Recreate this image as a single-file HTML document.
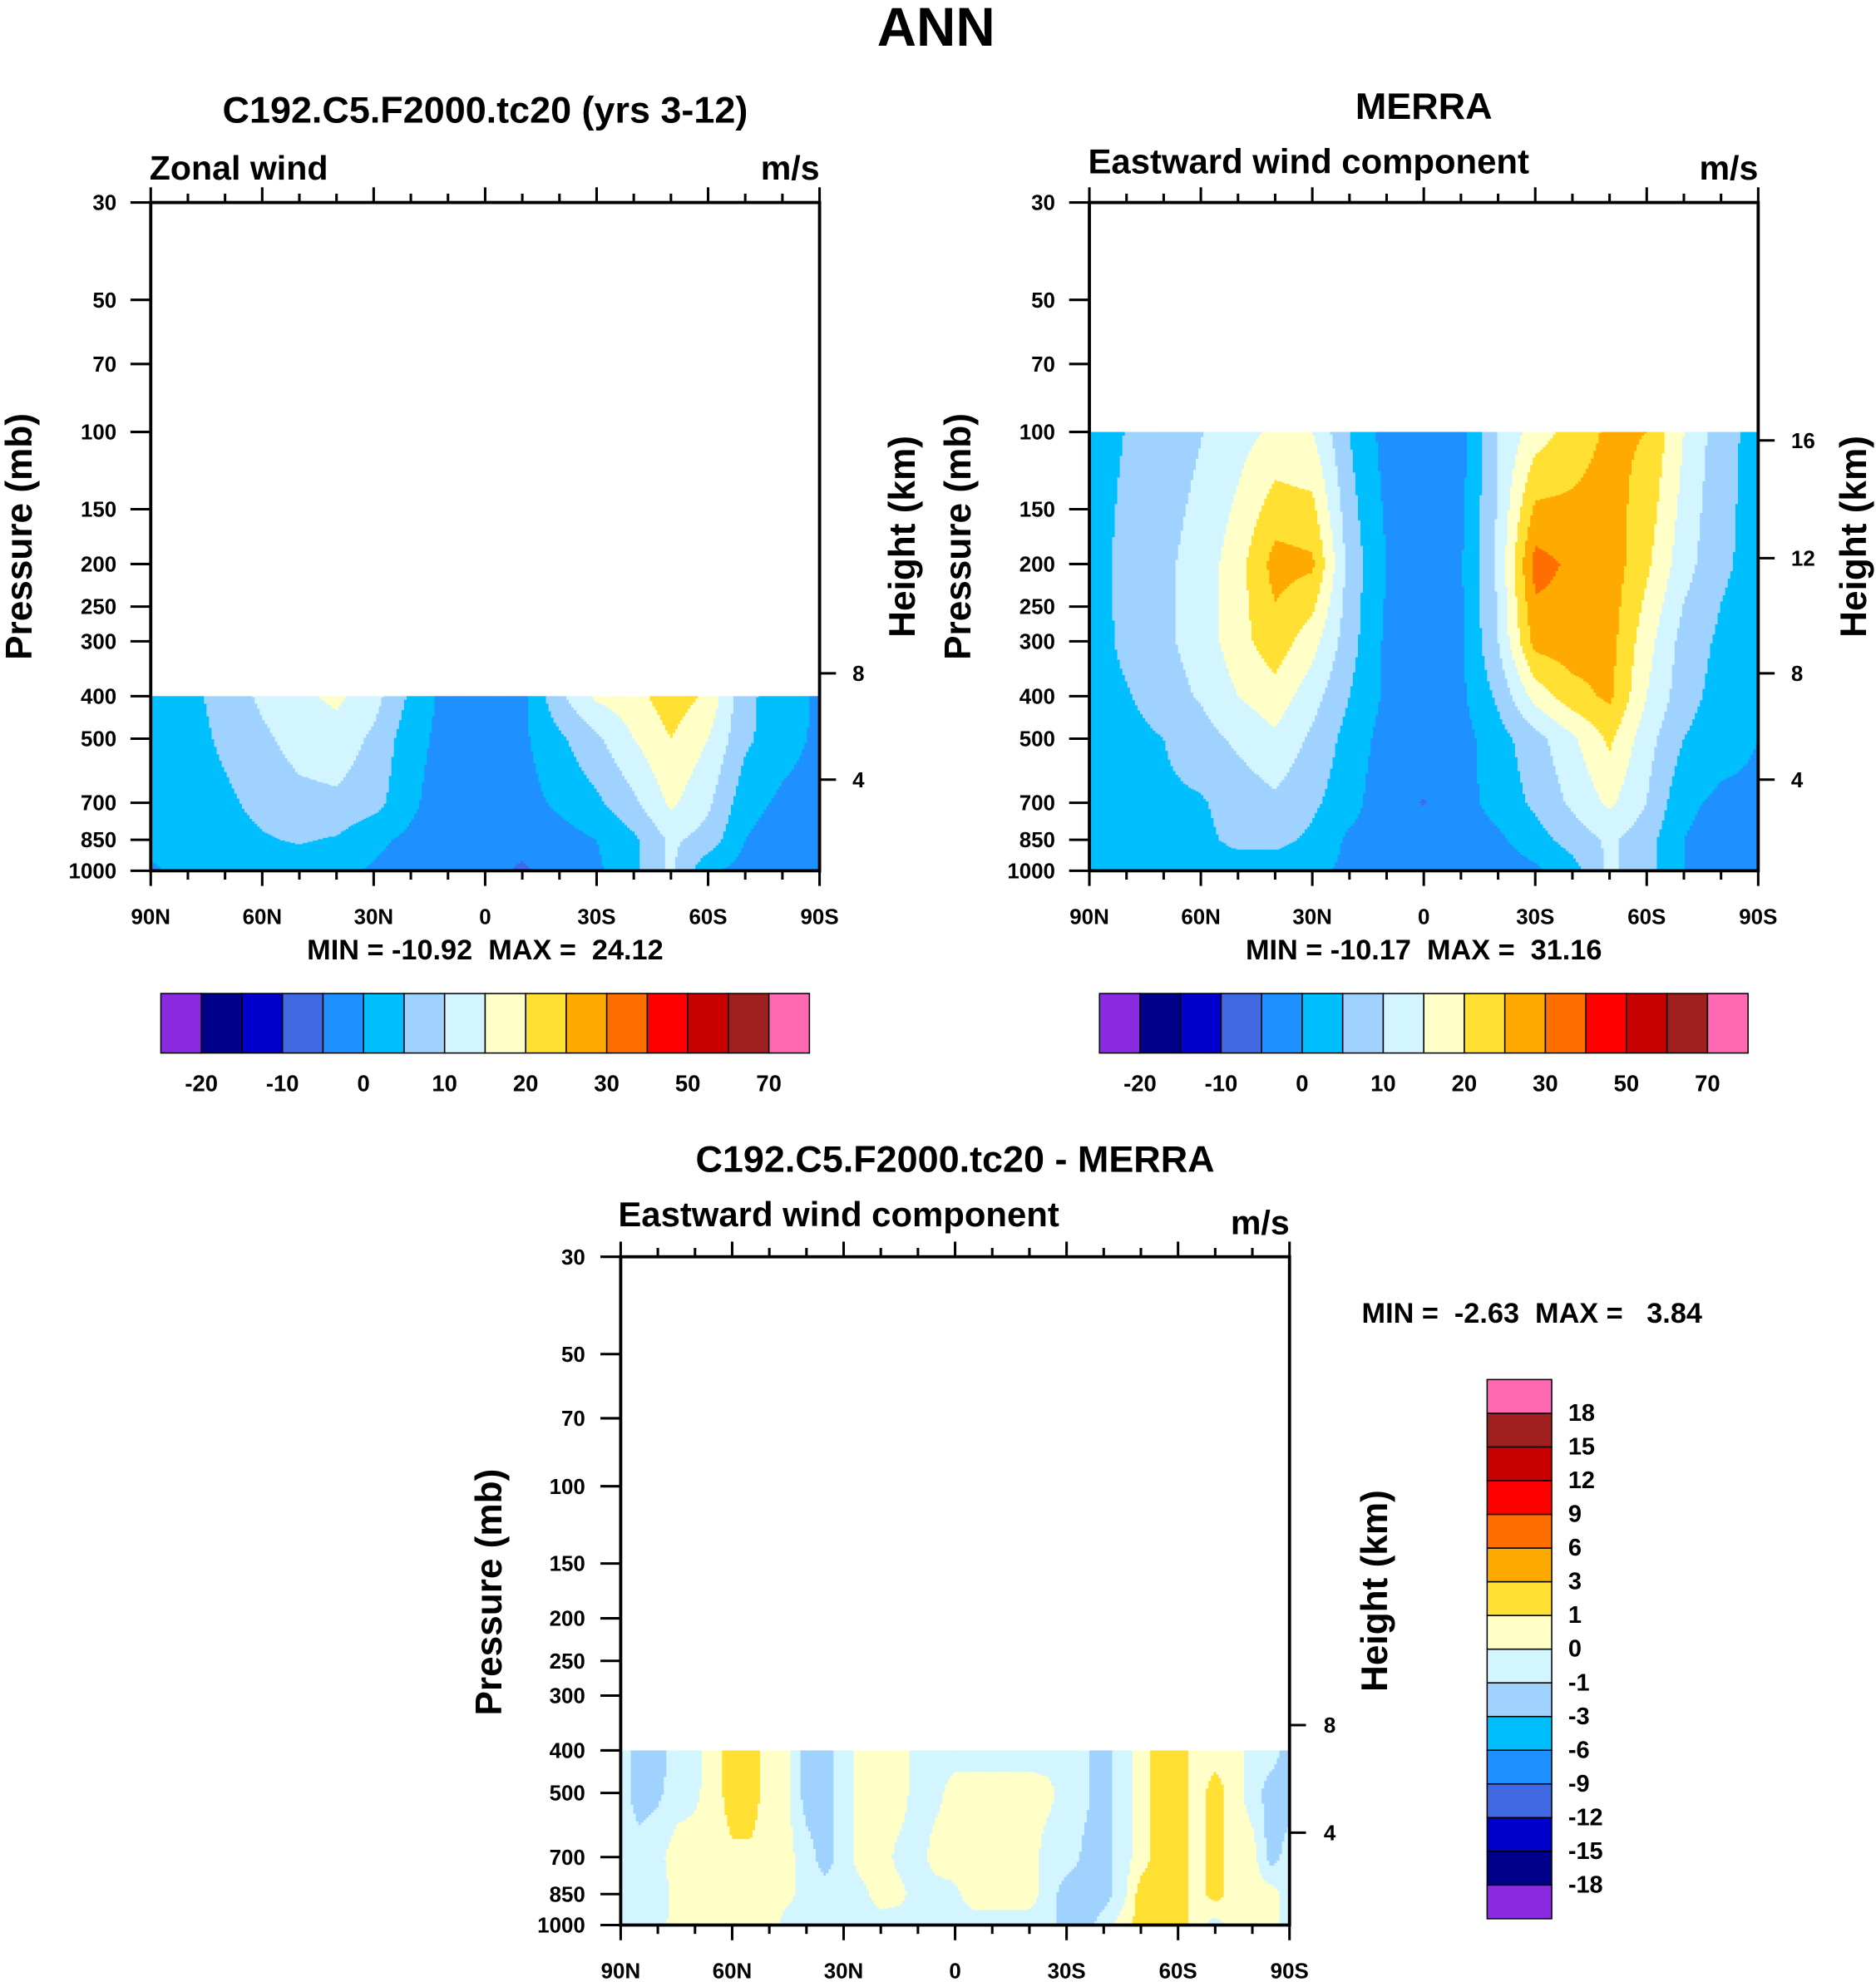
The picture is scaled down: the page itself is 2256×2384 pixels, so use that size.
<!DOCTYPE html>
<html><head><meta charset="utf-8">
<style>
html,body{margin:0;padding:0;background:#fff;}
svg{display:block;font-family:"Liberation Sans",Arial,sans-serif;font-weight:bold;}
text{white-space:pre;}
</style></head>
<body>
<svg id="fig" xmlns="http://www.w3.org/2000/svg" width="2256" height="2384" viewBox="0 0 1481 1566" preserveAspectRatio="none" xml:space="preserve">
<rect x="0" y="0" width="1481" height="1566" fill="#fff"/>
<text x="739" y="36" font-size="43" text-anchor="middle">ANN</text>
<g id="g1"></g>
<g id="g2"></g>
<g id="g3"></g>
</svg>
<script>
// ---- data ----
const levelsMain = [-20,-15,-10,-5,0,5,10,15,20,25,30,40,50,60,70];
const levelsDiff = [-18,-15,-12,-9,-6,-3,-1,0,1,3,6,9,12,15,18];
const colors = ["#8a2be2","#00008b","#0000cd","#4169e1","#1e90ff","#00bfff","#a0d2ff","#d2f5ff","#ffffc8","#ffe033","#ffaa00","#ff6e00","#ff0000","#c80000","#a02020","#ff69b4"];
const latsCoarse = [90,80,70,60,50,40,30,20,10,0,-10,-20,-30,-40,-50,-60,-70,-80,-90];
const latsFine = [90,85,80,75,70,65,60,55,50,45,40,35,30,25,20,15,10,5,0,-5,-10,-15,-20,-25,-30,-35,-40,-45,-50,-55,-60,-65,-70,-75,-80,-85,-90];
const pressureTicks = [30,50,70,100,150,200,250,300,400,500,700,850,1000];
const latTickLabels = ["90N","60N","30N","0","30S","60S","90S"];
const latTickValues = [90,60,30,0,-30,-60,-90];

const modelP = [400,500,700,850,1000];
const model400 = [2,3.5,7,11,14,16,12,4,-2,-3,-1.5,9,16,18,23,19,6,3,-1];
const model500 = [2,3,6,9,12,13,9,2,-2,-3,-1,4,9,15,20,15,6,2,-1];
const model700 = [2,2.5,4,6.5,8.5,9,7,1,-3,-3,-2,1,4,9,16,11,2,-1,-2];
const model850 = [1,2,3,4.5,5.5,4.5,1,-1,-2,-3,-4,-2,0,4,11,8,0,-3,-5];
const model1000 = [-0.5,1,2,2,2,1,-0.5,-2,-3,-4,-5.5,-3.5,-1,4,11,1,-2,-4,-4];

const merraP = [100,200,300,400,500,700,850,1000];
const merra100 = [2,5.2,7.5,9.8,13,16,15,5,-2,-3,-2,10,17.5,22,26,25,15,7,3];
const merra200 = [2,7,9,12,18,27,26,8,0,-3,-0.5,11,32,29,28,21,12,6,3];
const merra300 = [2,6.5,9,12,18,23,17,7,-1,-3,-1,10,27,28,27,17,8,4,2];
const merra400 = [2,4.5,8,10.5,15,18,12,5,-1,-3,-1,6,17,23,26,15,7,3,2];
const merra500 = [2,3,5,8,11,14,9,3,-2,-3,-2,3,8,14,21,12,5,2,0];
const merra700 = [2,3,4,4.5,7,9,6,2,-3.5,-5.2,-2,2,6,11,16,10,1,-1,-1];
const merra850 = [2,2.5,3,4,6,6.5,4,-1,-2,-3,-3,-1,3,7,11,7,0,-2,-3];
const merra1000 = [1,0.5,2,3,3,2,1,-1,-2,-3,-4.5,-3,-1,3,11,7,0,-2,-4];

const diffP = [400,500,700,850,1000];
const diff400 = [-0.5,-1.5,-1.5,-0.5,-0.3,0.5,1.5,1.5,0.5,0.3,-1.5,-1.5,-0.5,0.5,0.5,0.5,-0.5,-0.5,-0.5,-0.5,-0.5,-0.5,-0.5,-0.5,-0.5,-0.8,-1.5,-0.5,0.5,1.5,1.5,0.5,0.5,0.5,-0.5,-0.5,-1.5];
const diff500 = [-0.5,-1.5,-1.2,-0.5,-0.2,0.5,1.5,1.5,0.5,0.2,-1.5,-1.5,-0.5,0.5,0.5,0.5,-0.5,-0.3,0.5,0.5,0.5,0.5,0.5,0.3,-0.5,-0.8,-1.5,-0.5,0.5,1.5,1.5,0.5,1.5,0.5,-0.5,-1.5,-1.5];
const diff700 = [-0.5,-0.5,-0.3,0.5,0.5,0.5,0.8,0.8,0.5,0.3,-0.5,-1.5,-0.5,0.5,0.5,-0.3,-0.5,0.5,0.5,0.5,0.5,0.5,0.5,-0.5,-0.5,-1.2,-1.5,-0.5,0.5,1.5,1.5,0.5,1.5,0.5,0.5,-1.5,-0.5];
const diff850 = [-0.5,-0.5,-0.5,0.3,0.5,0.5,0.5,0.5,0.5,0.3,-0.5,-0.5,-0.5,-0.3,0.5,0.3,-0.5,-0.5,-0.2,0.5,0.5,0.5,0.5,-0.5,-1.5,-1.5,-1.5,-0.5,1.5,1.5,1.5,0.5,1.5,0.5,0.5,0.5,-0.5];
const diff1000 = [-0.5,-0.5,-0.5,0.5,0.5,0.5,0.5,0.5,0.5,-0.5,-0.5,-0.5,-0.5,-0.5,-0.5,-0.5,-0.5,-0.5,-0.5,-0.5,-0.5,-0.5,-0.5,-0.5,-1.5,-1.5,-0.5,0.5,1.5,1.5,1.5,0.5,-0.5,0.5,0.5,0.5,-0.5];

const NS = "http://www.w3.org/2000/svg";
function mk(parent, tag, attrs, text){
  const e = document.createElementNS(NS, tag);
  for (const k in attrs) e.setAttribute(k, attrs[k]);
  if (text !== undefined) e.textContent = text;
  parent.appendChild(e);
  return e;
}
function makeScales(x0,y0,W,H){
  return {
    x: lat => x0 + (90-lat)/180*W,
    y: p => y0 + Math.log(p/30)/Math.log(1000/30)*H,
    pAt: py => 30*Math.exp((py-y0)/H*Math.log(1000/30)),
    latAt: px => 90 - (px-x0)/W*180
  };
}
function interp(lats, ps, rows, lat, p){
  let i = 0;
  while (i < lats.length-2 && lat < lats[i+1]) i++;
  let fx = (lats[i]-lat)/(lats[i]-lats[i+1]); fx = Math.max(0,Math.min(1,fx));
  let j = 0;
  while (j < ps.length-2 && p > ps[j+1]) j++;
  let fy = (Math.log(p)-Math.log(ps[j]))/(Math.log(ps[j+1])-Math.log(ps[j])); fy = Math.max(0,Math.min(1,fy));
  const a = rows[j][i]*(1-fx)+rows[j][i+1]*fx;
  const b = rows[j+1][i]*(1-fx)+rows[j+1][i+1]*fx;
  return a*(1-fy)+b*fy;
}
function classify(v, levels){
  let k = 0;
  while (k < levels.length && v >= levels[k]) k++;
  return k;
}
function drawField(g, sc, x0, W, y1, lats, ps, rows, levels){
  const fg = mk(g,"g",{});
  
  
  const yTop = sc.y(ps[0]);
  const step = 2;
  for (let cx = x0; cx < x0+W; cx += step){
    const lat = sc.latAt(cx+step/2);
    let runStart = yTop, runCls = -1;
    for (let py = yTop; py <= y1; py += 1){
      const p = sc.pAt(Math.min(py+0.5,y1));
      const c = classify(interp(lats, ps, rows, lat, p), levels);
      if (c !== runCls){
        if (runCls >= 0) mk(fg,"rect",{x:cx,y:runStart,width:step+0.6,height:py-runStart+0.6,fill:colors[runCls]});
        runCls = c; runStart = py;
      }
    }
    mk(fg,"rect",{x:cx,y:runStart,width:step+0.6,height:y1-runStart,fill:colors[runCls]});
  }
}
function drawAxes(g, sc, x0, y0, W, H, plabX, heights, heightLabX){
  mk(g,"rect",{x:x0,y:y0,width:W,height:H,fill:"none",stroke:"#000","stroke-width":2.5});
  pressureTicks.forEach(p=>{
    const y = sc.y(p);
    mk(g,"line",{x1:x0-16,y1:y,x2:x0,y2:y,stroke:"#000","stroke-width":2});
    const t = mk(g,"text",{x:plabX,y:y+6,"font-size":17,"text-anchor":"end"},String(p));
    
    
  });
  for (let lat = 90; lat >= -90; lat -= 10){
    const x = sc.x(lat);
    const major = lat % 30 === 0;
    const L = major ? 12 : 7;
    mk(g,"line",{x1:x,y1:y0,x2:x,y2:y0-L,stroke:"#000","stroke-width":2});
    mk(g,"line",{x1:x,y1:y0+H,x2:x,y2:y0+H+L,stroke:"#000","stroke-width":2});
  }
  latTickValues.forEach((lat,i)=>{
    const t = mk(g,"text",{x:sc.x(lat),y:y0+H+42,"font-size":17,"text-anchor":"middle"},latTickLabels[i]);
    
    
  });
  heights.forEach(h=>{
    mk(g,"line",{x1:x0+W,y1:h[1],x2:x0+W+13,y2:h[1],stroke:"#000","stroke-width":2});
    const t = mk(g,"text",{x:heightLabX,y:h[1]+6,"font-size":17},h[0]);
    
    
  });
}
function txt(g, x, y, s, str, anchor, name, rot){
  const a = {x:x,y:y,"font-size":s,"text-anchor":anchor||"start"};
  if (rot) a.transform = "rotate(-90 "+x+" "+y+")";
  const t = mk(g,"text",a,str);
  
  
  return t;
}
function hColorbar(g, x0, y0, w, h, levels){
  const n = colors.length, bw = w/n;
  colors.forEach((c,i)=>{
    const r = mk(g,"rect",{x:x0+i*bw,y:y0,width:bw,height:h,fill:c,stroke:"#000","stroke-width":1});
    
    
  });
  levels.forEach((lv,i)=>{
    if (i % 2 === 0) txt(g, x0+(i+1)*bw, y0+h+30, 18, String(lv), "middle", "colorbar-label");
  });
}

(function(){
  const g = document.getElementById("g1");
  const x0=119,y0=160,W=528,H=528;
  const sc = makeScales(x0,y0,W,H);
  drawField(g, sc, x0, W, y0+H, latsCoarse, modelP, [model400,model500,model700,model850,model1000], levelsMain);
  drawAxes(g, sc, x0, y0, W, H, 92, [["8",532],["4",616]], 673);
  txt(g, 383, 97, 29.5, "C192.C5.F2000.tc20 (yrs 3-12)", "middle", "panel-title");
  txt(g, 118, 142, 27, "Zonal wind", "start", "variable-label");
  txt(g, 647, 142, 27, "m/s", "end", "units-label");
  txt(g, 25, 424, 29, "Pressure (mb)", "middle", "y-axis-title", true);
  txt(g, 722, 424, 29, "Height (km)", "middle", "right-axis-title", true);
  txt(g, 383, 758, 22.5, "MIN = -10.92  MAX =  24.12", "middle", "min-max-label");
  hColorbar(g, 127, 785, 512, 47, levelsMain);
})();
(function(){
  const g = document.getElementById("g2");
  const x0=860,y0=160,W=528,H=528;
  const sc = makeScales(x0,y0,W,H);
  drawField(g, sc, x0, W, y0+H, latsCoarse, merraP, [merra100,merra200,merra300,merra400,merra500,merra700,merra850,merra1000], levelsMain);
  drawAxes(g, sc, x0, y0, W, H, 833, [["16",348],["12",441],["8",532],["4",616]], 1414);
  txt(g, 1124, 94, 29.5, "MERRA", "middle", "panel-title");
  txt(g, 859, 137, 27.5, "Eastward wind component", "start", "variable-label");
  txt(g, 1388, 142, 27, "m/s", "end", "units-label");
  txt(g, 766, 424, 29, "Pressure (mb)", "middle", "y-axis-title", true);
  txt(g, 1473, 424, 29, "Height (km)", "middle", "right-axis-title", true);
  txt(g, 1124, 758, 22.5, "MIN = -10.17  MAX =  31.16", "middle", "min-max-label");
  hColorbar(g, 868, 785, 512, 47, levelsMain);
})();
(function(){
  const g = document.getElementById("g3");
  const x0=490,y0=993,W=528,H=528;
  const sc = makeScales(x0,y0,W,H);
  drawField(g, sc, x0, W, y0+H, latsFine, diffP, [diff400,diff500,diff700,diff850,diff1000], levelsDiff);
  drawAxes(g, sc, x0, y0, W, H, 462, [["8",1363],["4",1448]], 1045);
  txt(g, 754, 926, 29.5, "C192.C5.F2000.tc20 - MERRA", "middle", "panel-title");
  txt(g, 488, 969, 27.5, "Eastward wind component", "start", "variable-label");
  txt(g, 1018, 975, 27, "m/s", "end", "units-label");
  txt(g, 396, 1258, 29, "Pressure (mb)", "middle", "y-axis-title", true);
  txt(g, 1095, 1257, 29, "Height (km)", "middle", "right-axis-title", true);
  txt(g, 1075, 1045, 22.5, "MIN =  -2.63  MAX =   3.84", "start", "min-max-label");
  const cx=1174, cy=1090, cw=51, ch=426, n=colors.length, bh=ch/n;
  colors.forEach((c,i)=>{
    const r = mk(g,"rect",{x:cx,y:cy+(n-1-i)*bh,width:cw,height:bh,fill:c,stroke:"#000","stroke-width":1});
    
    
  });
  levelsDiff.forEach((lv,i)=>{
    txt(g, 1238, cy+(n-1-i)*bh+6, 19, String(lv), "start", "colorbar-label");
  });
})();
</script>
</body></html>
